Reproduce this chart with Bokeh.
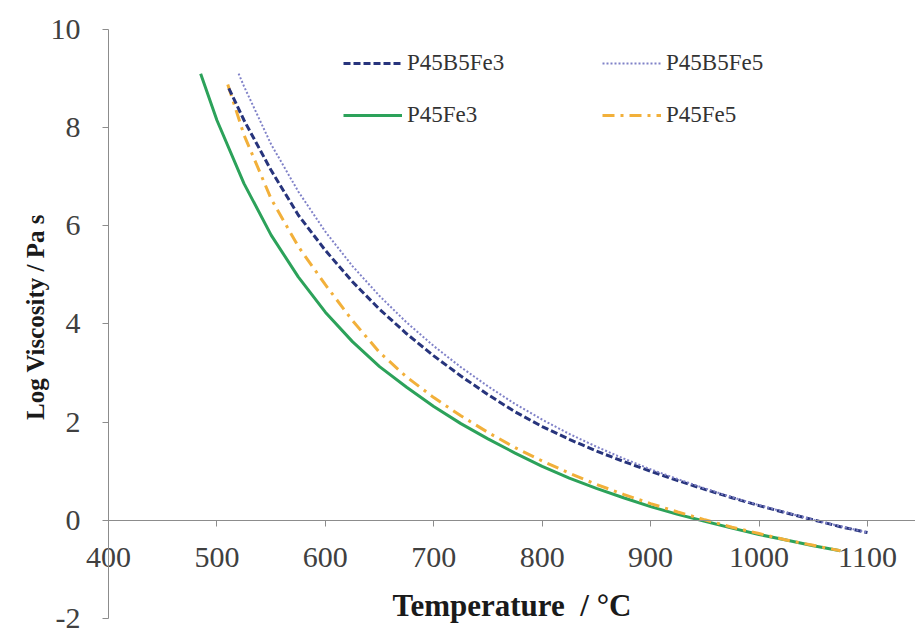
from bokeh.plotting import figure
from bokeh.models import Range1d, FixedTicker, Legend, LegendItem, Title
from bokeh.embed import file_html
from bokeh.resources import INLINE

# ---- data ----
temp_b5fe3 = [511, 525, 550, 575, 600, 625, 650, 675, 700, 725, 750, 775, 800, 825, 850,
              875, 900, 925, 950, 975, 1000, 1025, 1050, 1075, 1100]
visc_b5fe3 = [8.80, 8.15, 7.13, 6.22, 5.50, 4.86, 4.30, 3.80, 3.35, 2.94, 2.56, 2.21, 1.91,
              1.65, 1.41, 1.20, 1.00, 0.81, 0.63, 0.46, 0.30, 0.15, 0.01, -0.13, -0.25]

temp_b5fe5 = [520, 525, 550, 575, 600, 625, 650, 675, 700, 725, 750, 775, 800, 825, 850,
              875, 900, 925, 950, 975, 1000, 1025, 1050, 1075, 1100]
visc_b5fe5 = [9.10, 8.84, 7.66, 6.70, 5.88, 5.18, 4.57, 4.03, 3.55, 3.12, 2.73, 2.37, 2.05,
              1.76, 1.50, 1.26, 1.04, 0.84, 0.65, 0.47, 0.31, 0.16, 0.01, -0.12, -0.25]

temp_fe3 = [485, 500, 525, 550, 575, 600, 625, 650, 675, 700, 725, 750, 775, 800, 825, 850,
            875, 900, 925, 950, 975, 1000, 1025, 1050, 1075]
visc_fe3 = [9.10, 8.15, 6.86, 5.81, 4.96, 4.24, 3.64, 3.13, 2.71, 2.32, 1.97, 1.66, 1.37,
            1.10, 0.86, 0.65, 0.46, 0.28, 0.12, -0.02, -0.16, -0.29, -0.40, -0.52, -0.62]

temp_fe5 = [510, 525, 550, 575, 600, 625, 650, 675, 700, 725, 750, 775, 800, 825, 850,
            875, 900, 925, 950, 975, 1000, 1025, 1050, 1075]
visc_fe5 = [8.88, 7.85, 6.55, 5.58, 4.80, 4.07, 3.42, 2.92, 2.50, 2.13, 1.79, 1.48, 1.21,
            0.96, 0.73, 0.53, 0.34, 0.17, 0.01, -0.14, -0.27, -0.40, -0.51, -0.62]

x_ticks = [400, 500, 600, 700, 800, 900, 1000, 1100]
y_ticks = [-2, 0, 2, 4, 6, 8, 10]
y_tick_text = {-2: "-2"}

REG_FONT = "serif"
BOLD_FONT = "Liberation Serif"

p = figure(width=915, height=633, frame_width=867, frame_height=633,
           x_range=Range1d(344.67, 1144.3), y_range=Range1d(-2.306, 10.59),
           output_backend="svg", toolbar_location=None,
           min_border_left=48, min_border_right=0, min_border_top=0, min_border_bottom=0,
           background_fill_color="white", border_fill_color="white")
p.outline_line_color = None
p.grid.visible = False

# x axis crossing at y = 0
xa = p.xaxis[0]
xa.fixed_location = 0
xa.bounds = (400, 1144.3)
xa.ticker = FixedTicker(ticks=x_ticks)
xa.minor_tick_line_color = None
xa.major_tick_in = 0
xa.major_tick_out = 6
xa.axis_line_color = "#8c8c8c"
xa.major_tick_line_color = "#8c8c8c"
xa.major_label_text_font = REG_FONT
xa.major_label_text_font_size = "30px"
xa.major_label_text_color = "#404040"
xa.major_label_standoff = 22
xa.axis_label = "Temperature\u00a0\u00a0/ \u00b0C"
xa.axis_label_text_font = BOLD_FONT
xa.axis_label_text_font_style = "bold"
xa.axis_label_text_font_size = "31px"
xa.axis_label_text_color = "#1a1a1a"
xa.axis_label_standoff = 17

# y axis at x = 400
ya = p.yaxis[0]
ya.fixed_location = 400
ya.bounds = (-2, 10)
ya.ticker = FixedTicker(ticks=y_ticks)
ya.major_label_overrides = y_tick_text
ya.minor_tick_line_color = None
ya.major_tick_in = 0
ya.major_tick_out = 6
ya.axis_line_color = "#8c8c8c"
ya.major_tick_line_color = "#8c8c8c"
ya.major_label_text_font = REG_FONT
ya.major_label_text_font_size = "30px"
ya.major_label_text_color = "#404040"
ya.major_label_standoff = 22

ytitle = Title(text="Log Viscosity / Pa s", align="center", offset=44,
               text_font=BOLD_FONT, text_font_style="bold", text_font_size="25px",
               text_color="#1a1a1a", standoff=0)
p.add_layout(ytitle, "left")

r_fe3 = p.line(temp_fe3, visc_fe3, line_color="#2ca25a", line_width=3)
r_fe5 = p.line(temp_fe5, visc_fe5, line_color="#f2b03a", line_width=3, line_dash="12 6 3 6")
r_b5fe3 = p.line(temp_b5fe3, visc_b5fe3, line_color="#27347c", line_width=3, line_dash="7 3")
r_b5fe5 = p.line(temp_b5fe5, visc_b5fe5, line_color="#8082c8", line_width=2, line_dash="2 2")

common = dict(border_line_color=None, background_fill_alpha=0, padding=0, margin=0,
              glyph_width=59, glyph_height=30, label_height=30, label_standoff=5, spacing=22,
              label_text_font=REG_FONT, label_text_font_size="23px", label_text_color="#333333")

leg1 = Legend(items=[LegendItem(label="P45B5Fe3", renderers=[r_b5fe3]),
                     LegendItem(label="P45Fe3", renderers=[r_fe3])],
              location=(295, 503), **common)
leg2 = Legend(items=[LegendItem(label="P45B5Fe5", renderers=[r_b5fe5]),
                     LegendItem(label="P45Fe5", renderers=[r_fe5])],
              location=(554, 503), **common)
p.add_layout(leg1, "center")
p.add_layout(leg2, "center")

open("out.html", "w").write(file_html(p, INLINE))
